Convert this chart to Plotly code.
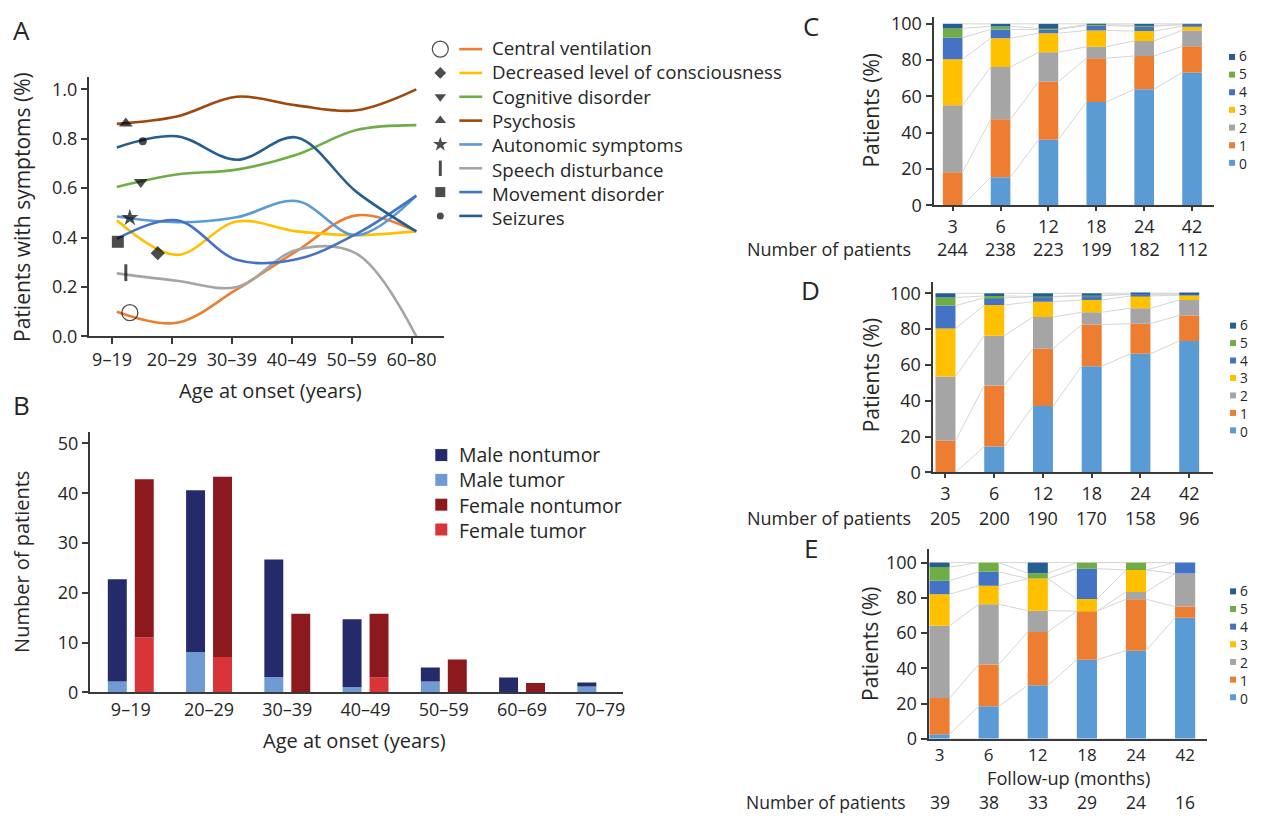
import plotly.graph_objects as go

W, H = 1261, 822
FONT = "Open Sans"
TXT = "#262626"
AXC = "#3a3a3a"

# ---------------- Panel A data ----------------
age_a = ["9–19", "20–29", "30–39", "40–49", "50–59", "60–80"]
symptoms = ["Central ventilation", "Decreased level of consciousness", "Cognitive disorder",
            "Psychosis", "Autonomic symptoms", "Speech disturbance", "Movement disorder", "Seizures"]
central_ventilation = [0.10, 0.055, 0.19, 0.345, 0.49, 0.425]
decreased_consciousness = [0.47, 0.33, 0.465, 0.425, 0.41, 0.425]
cognitive_disorder = [0.605, 0.655, 0.675, 0.735, 0.835, 0.855]
psychosis = [0.86, 0.89, 0.97, 0.935, 0.915, 1.0]
autonomic_symptoms = [0.485, 0.462, 0.482, 0.548, 0.41, 0.57]
speech_disturbance = [0.255, 0.225, 0.2, 0.35, 0.335, 0.0]
movement_disorder = [0.395, 0.47, 0.31, 0.312, 0.415, 0.57]
seizures = [0.765, 0.81, 0.715, 0.805, 0.585, 0.425]
symptom_marker_x = [0.217, 0.683, 0.40, 0.15, 0.217, 0.15, 0.017, 0.433]
symptom_marker_y = [0.096, 0.337, 0.625, 0.862, 0.48, 0.258, 0.383, 0.79]

# ---------------- Panel B data ----------------
age_b = ["9–19", "20–29", "30–39", "40–49", "50–59", "60–69", "70–79"]
male_tumor = [2.2, 8.1, 3.1, 1.1, 2.2, 0, 1.2]
male_nontumor = [20.5, 32.5, 23.6, 13.6, 2.8, 3.0, 0.8]
female_tumor = [11.0, 7.1, 0, 3.0, 0, 0, 0]
female_nontumor = [31.8, 36.2, 15.8, 12.8, 6.6, 1.9, 0]

# ---------------- Panels C/D/E data ----------------
months = ["3", "6", "12", "18", "24", "42"]
levels = ["0", "1", "2", "3", "4", "5", "6"]
c_pct = [
    [0, 15.5, 36.2, 56.9, 64.0, 73.2],
    [18.2, 31.9, 31.9, 24.2, 18.3, 14.4],
    [36.9, 28.8, 16.2, 6.3, 8.3, 8.8],
    [25.4, 15.9, 10.5, 9.0, 5.4, 2.3],
    [11.9, 4.8, 2.1, 2.7, 2.6, 0.9],
    [5.1, 1.7, 0.6, 0.4, 0.5, 0.0],
    [2.5, 1.4, 2.5, 0.5, 0.9, 0.4],
]
c_n = [244, 238, 223, 199, 182, 112]
d_pct = [
    [0, 14.4, 37.0, 59.3, 66.2, 73.4],
    [17.7, 34.1, 32.0, 23.2, 16.8, 14.2],
    [35.8, 27.8, 17.7, 6.9, 8.6, 8.6],
    [26.8, 17.1, 8.6, 6.8, 6.9, 2.7],
    [12.8, 4.0, 2.7, 2.3, 1.0, 0.7],
    [4.5, 1.1, 0.2, 0.4, 0.0, 0.0],
    [2.4, 1.5, 1.8, 1.1, 0.5, 0.4],
]
d_n = [205, 200, 190, 170, 158, 96]
e_counts = [
    [1, 7, 10, 13, 12, 11],
    [8, 9, 10, 8, 7, 1],
    [16, 13, 4, 0, 1, 3],
    [7, 4, 6, 2, 3, 0],
    [3, 3, 0, 5, 0, 1],
    [3, 2, 1, 1, 1, 0],
    [1, 0, 2, 0, 0, 0],
]
e_n = [39, 38, 33, 29, 24, 16]

# ---------------- styles ----------------
colors_a = ["#ED7D31", "#FFC000", "#70AD47", "#9E480E", "#5B9BD5", "#A5A5A5", "#4472C4", "#255E91"]
symbols_a = ["circle-open", "diamond", "triangle-down", "triangle-up", "star", "line-ns", "square", "circle"]
msize_a = [16, 11, 12, 12, 13, 12, 12, 8]
mlw_a = [1.3, 0, 0, 0, 0, 3, 0, 0]
leg_size_a = [16, 9, 10, 10, 11, 11, 10, 7]
colors_b = {"Male nontumor": "#252A6B", "Male tumor": "#6F9AD4",
            "Female nontumor": "#8C191E", "Female tumor": "#D93437"}
level_colors = ["#5B9BD5", "#ED7D31", "#A5A5A5", "#FFC000", "#4472C4", "#70AD47", "#255E91"]


def fx(p):
    return p / W


def fy(p):
    return 1 - p / H


fig = go.Figure()

# ---- Panel A lines ----
series_a = [central_ventilation, decreased_consciousness, cognitive_disorder, psychosis,
            autonomic_symptoms, speech_disturbance, movement_disorder, seizures]
xa = list(range(len(age_a)))
for name, vals, col in zip(symptoms, series_a, colors_a):
    fig.add_trace(go.Scatter(x=xa, y=vals, mode="lines", name=name, showlegend=False,
                             line=dict(color=col, width=2.6, shape="spline", smoothing=1.0),
                             xaxis="x", yaxis="y", hoverinfo="skip"))
fig.add_trace(go.Scatter(x=symptom_marker_x, y=symptom_marker_y, mode="markers", showlegend=False,
                         marker=dict(symbol=symbols_a, size=msize_a, color="black",
                                     line=dict(color="black", width=mlw_a)),
                         xaxis="x", yaxis="y", cliponaxis=False))

# ---- Panel B bars ----
xb = list(range(len(age_b)))
fig.add_trace(go.Bar(x=xb, y=male_tumor, offsetgroup="m", marker_color=colors_b["Male tumor"],
                     marker_line_width=0, xaxis="x2", yaxis="y2", showlegend=False))
fig.add_trace(go.Bar(x=xb, y=male_nontumor, base=male_tumor, offsetgroup="m",
                     marker_color=colors_b["Male nontumor"], marker_line_width=0,
                     xaxis="x2", yaxis="y2", showlegend=False))
fig.add_trace(go.Bar(x=xb, y=female_tumor, offsetgroup="f", marker_color=colors_b["Female tumor"],
                     marker_line_width=0, xaxis="x2", yaxis="y2", showlegend=False))
fig.add_trace(go.Bar(x=xb, y=female_nontumor, base=female_tumor, offsetgroup="f",
                     marker_color=colors_b["Female nontumor"], marker_line_width=0,
                     xaxis="x2", yaxis="y2", showlegend=False))

# ---- Panels C/D/E stacked bars ----
e_pct = [[c / n * 100 for c, n in zip(row, e_n)] for row in e_counts]
BW = 0.41


def stacked(pcts, xa_name, ya_name, grp):
    xs = list(range(len(months)))
    cum = [0.0] * len(xs)
    tops = []
    bases = []
    for row in pcts:
        bases.append(cum[:])
        cum = [c + v for c, v in zip(cum, row)]
        tops.append(cum[:])
    bounds = [bases[0]] + tops
    for b in bounds:
        lx, ly = [], []
        for i in range(len(xs) - 1):
            lx += [xs[i] + BW / 2, xs[i + 1] - BW / 2, None]
            ly += [b[i], b[i + 1], None]
        fig.add_trace(go.Scatter(x=lx, y=ly, mode="lines", line=dict(color="#D6D6D6", width=1),
                                 xaxis=xa_name, yaxis=ya_name, showlegend=False, hoverinfo="skip"))
    for k, row in enumerate(pcts):
        fig.add_trace(go.Bar(x=xs, y=row, base=bases[k], width=BW, offset=-BW / 2,
                             offsetgroup=grp, marker_color=level_colors[k], marker_line_width=0,
                             xaxis=xa_name, yaxis=ya_name, showlegend=False, name=levels[k]))


stacked(c_pct, "x3", "y3", "c")
stacked(d_pct, "x4", "y4", "d")
stacked(e_pct, "x5", "y5", "e")

# ---- Legend symbols on an invisible overlay (pixel-like layout axis) ----
A_LEG_Y0, A_LEG_DY = 45, 24.3
leg_a_y = [A_LEG_Y0 + A_LEG_DY * k for k in range(len(symptoms))]
fig.add_trace(go.Scatter(x=[441] * len(symptoms), y=leg_a_y, mode="markers", showlegend=False,
                         marker=dict(symbol=symbols_a, size=leg_size_a, color="black",
                                     line=dict(color="black", width=[1.2, 0, 0, 0, 0, 3, 0, 0])),
                         xaxis="x6", yaxis="y6", hoverinfo="skip"))
for yv, col in zip(leg_a_y, colors_a):
    fig.add_trace(go.Scatter(x=[460, 483], y=[yv, yv], mode="lines", line=dict(color=col, width=2.6),
                             xaxis="x6", yaxis="y6", showlegend=False, hoverinfo="skip"))

b_names = ["Male nontumor", "Male tumor", "Female nontumor", "Female tumor"]
B_LEG_Y0, B_LEG_DY = 459, 25.3
leg_b_y = [B_LEG_Y0 + B_LEG_DY * k for k in range(len(b_names))]
fig.add_trace(go.Scatter(x=[442] * 4, y=leg_b_y, mode="markers", showlegend=False,
                         marker=dict(symbol="square", size=12, color=[colors_b[n] for n in b_names]),
                         xaxis="x6", yaxis="y6", hoverinfo="skip"))

lev_rev = list(reversed(range(len(levels))))
legend_cde = [(1234, 53, 18.0), (1235, 327, 17.8), (1235, 598, 18.0)]
for (lx, ly0, dy) in legend_cde:
    ys = [ly0 + dy * j for j in range(len(levels))]
    fig.add_trace(go.Scatter(x=[lx] * len(levels), y=ys, mode="markers", showlegend=False,
                             marker=dict(symbol="square", size=6, color=[level_colors[k] for k in lev_rev]),
                             xaxis="x6", yaxis="y6", hoverinfo="skip"))

# ---------------- annotations ----------------
ann = []


def txt(x, y, s, size=18, xanchor="center", yanchor="middle", angle=0, xref="paper", align="center"):
    ann.append(dict(x=x if xref != "paper" else fx(x), y=fy(y), xref=xref, yref="paper", text=s,
                    showarrow=False, xanchor=xanchor, yanchor=yanchor, textangle=angle, align=align,
                    borderpad=0, font=dict(family=FONT, size=size, color=TXT)))


for letter, lx, ly in [("A", 22, 26), ("B", 22, 408), ("C", 812, 21), ("D", 812, 291), ("E", 812, 554)]:
    txt(lx, ly, letter, size=26)

txt(22, 206, "Patients with symptoms (%)", size=21, angle=-90)
txt(271, 393, "Age at onset (years)", size=20)
txt(22, 568, "Number of patients", size=20, angle=-90)
txt(355, 750, "Age at onset (years)", size=20)
for yc in [108, 378, 652]:
    txt(872, yc, "Patients (%)", size=21, angle=-90)
txt(1070, 788.3, "Follow-up (months)", size=18.2)

# legends as multi-line text blocks (line pitch = 1.3 x font size)
txt(492, A_LEG_Y0 + A_LEG_DY * (len(symptoms) - 1) / 2, "<br>".join(symptoms),
    size=A_LEG_DY / 1.3, xanchor="left", align="left")
txt(459, B_LEG_Y0 + B_LEG_DY * (len(b_names) - 1) / 2, "<br>".join(b_names),
    size=B_LEG_DY / 1.3, xanchor="left", align="left")
for (lx, ly0, dy) in legend_cde:
    txt(lx + 6, ly0 + dy * 3, "<br>".join(levels[k] for k in lev_rev),
        size=dy / 1.3, xanchor="left", align="left")

for (xr, yrow, nlist, xr_end, fs) in [("x3", 249, c_n, 913, 18), ("x4", 523, d_n, 913, 18),
                                      ("x5", 812.5, e_n, 908, 17.5)]:
    txt(xr_end, yrow, "Number of patients", size=fs, xanchor="right")
    for i, n in enumerate(nlist):
        txt(i, yrow, str(n), size=fs, xref=xr)


# ---------------- axes ----------------
def ax(domain, rng, anchor, **kw):
    d = dict(domain=domain, range=rng, anchor=anchor, showline=True, linecolor=AXC, linewidth=2,
             showgrid=False, zeroline=False, ticks="outside", ticklen=6, tickwidth=1.5,
             tickcolor=AXC, fixedrange=True,
             tickfont=dict(family=FONT, size=18, color=TXT))
    d.update(kw)
    return d


layout = dict(
    autosize=True, margin=dict(l=0, r=0, t=0, b=0, pad=0),
    paper_bgcolor="white", plot_bgcolor="rgba(0,0,0,0)",
    barmode="group", bargap=0.311, bargroupgap=0.297,
    showlegend=False, annotations=ann,
    font=dict(family=FONT, color=TXT),
    xaxis=ax([fx(89), fx(445)], [-0.467, 5.467], "y",
             tickvals=[i - 0.08 for i in xa], ticktext=age_a),
    yaxis=ax([fy(338), fy(73)], [0, 1.0516], "x",
             tickvals=[0, 0.2, 0.4, 0.6, 0.8, 1.0], tickformat=".1f"),
    xaxis2=ax([fx(90), fx(624)], [-0.523, 6.29], "y2", tickvals=xb, ticktext=age_b,
              ticks="", ticklen=0),
    yaxis2=ax([fy(701), fy(435)], [0, 52.4], "x2", tickvals=[0, 10, 20, 30, 40, 50]),
    xaxis3=ax([fx(935), fx(1216)], [-0.4, 5.46], "y3", tickvals=list(range(6)), ticktext=months,
              ticklen=4),
    yaxis3=ax([fy(204.3), fy(12)], [0, 103.9], "x3", tickvals=[0, 20, 40, 60, 80, 100]),
    xaxis4=ax([fx(934), fx(1215)], [-0.266, 5.49], "y4", tickvals=list(range(6)), ticktext=months,
              ticklen=4),
    yaxis4=ax([fy(476.7), fy(283)], [0, 106], "x4", tickvals=[0, 20, 40, 60, 80, 100]),
    xaxis5=ax([fx(930), fx(1209)], [-0.224, 5.447], "y5", tickvals=list(range(6)), ticktext=months,
              ticks="", ticklen=0, tickfont=dict(family=FONT, size=17, color=TXT)),
    yaxis5=ax([fy(748.3), fy(555)], [0, 107.6], "x5", tickvals=[0, 20, 40, 60, 80, 100]),
    xaxis6=dict(domain=[0, 1], range=[0, W], anchor="y6", visible=False, fixedrange=True),
    yaxis6=dict(domain=[0, 1], range=[H, 0], anchor="x6", visible=False, fixedrange=True),
)
fig.update_layout(**layout)
fig.write_html(
    "out.html",
    default_width="100vw",
    default_height="100vh",
    config={"displayModeBar": False, "responsive": True},
    post_script=("document.documentElement.style.margin='0px';"
                 "document.body.style.margin='0px';document.body.style.padding='0px';"
                 "document.documentElement.style.overflow='hidden';"
                 "document.body.style.overflow='hidden';"),
)
